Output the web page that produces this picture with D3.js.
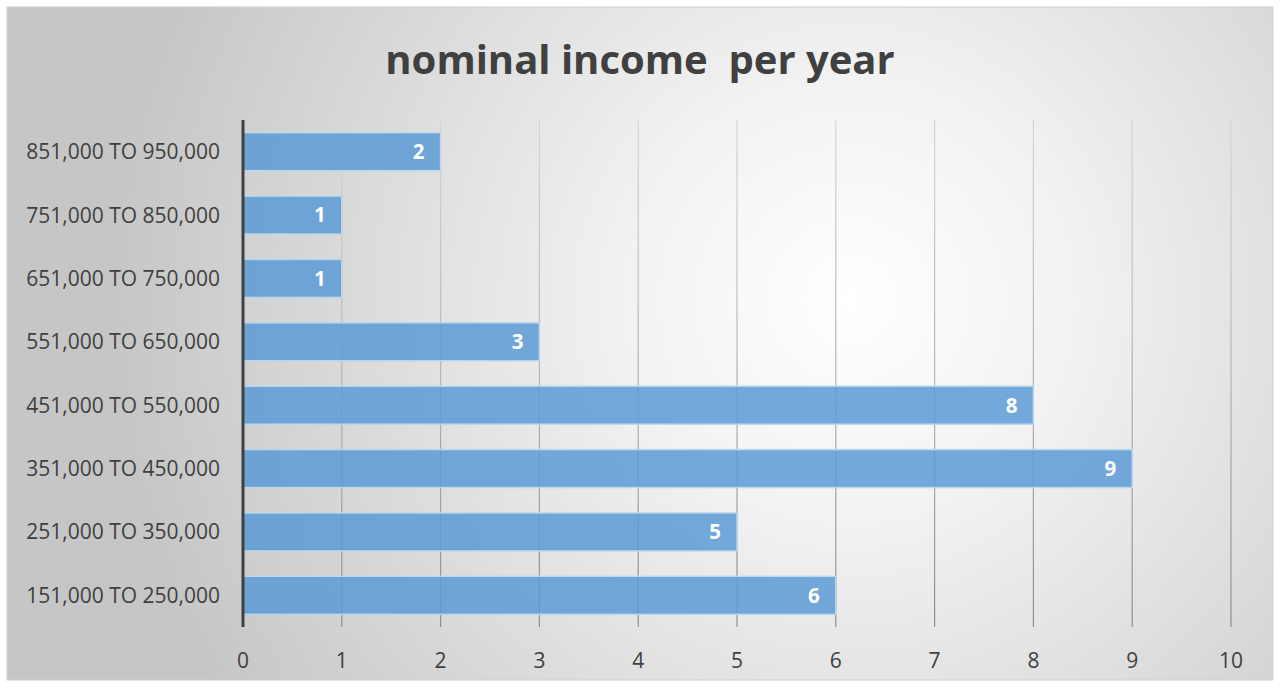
<!DOCTYPE html>
<html>
<head>
<meta charset="utf-8">
<script src="https://cdn.jsdelivr.net/npm/d3@7"></script>
<style>
  html, body { margin: 0; padding: 0; background: #fff; }
  svg { display: block; }
  text { font-family: "Open Sans", "Noto Sans", sans-serif; }
</style>
</head>
<body>
<svg id="chart" width="1281" height="687"></svg>
<script>
// Income brackets (bottom to top as drawn) and number of respondents
const categories = [
  "151,000 TO 250,000",
  "251,000 TO 350,000",
  "351,000 TO 450,000",
  "451,000 TO 550,000",
  "551,000 TO 650,000",
  "651,000 TO 750,000",
  "751,000 TO 850,000",
  "851,000 TO 950,000"
];
const counts = [6, 5, 9, 8, 3, 1, 1, 2];
const xTicks = [0, 1, 2, 3, 4, 5, 6, 7, 8, 9, 10];
const title = "nominal income  per year";

const svg = d3.select("#chart");

const plotLeft = 243, plotRight = 1231, plotTop = 120, plotBottom = 627;

// Soft radial background of the chart area
const defs = svg.append("defs");
const grad = defs.append("radialGradient")
  .attr("id", "bg")
  .attr("gradientUnits", "userSpaceOnUse")
  .attr("cx", 850).attr("cy", 300).attr("r", 740);
grad.append("stop").attr("offset", "0").attr("stop-color", "#ffffff");
grad.append("stop").attr("offset", "0.3").attr("stop-color", "#f2f2f2");
grad.append("stop").attr("offset", "1").attr("stop-color", "#c6c6c6");

// Gridlines fade towards the top
const gridGrad = defs.append("linearGradient")
  .attr("id", "grid")
  .attr("gradientUnits", "userSpaceOnUse")
  .attr("x1", 0).attr("y1", plotTop).attr("x2", 0).attr("y2", plotBottom);
gridGrad.append("stop").attr("offset", "0").attr("stop-color", "#d6d6d6");
gridGrad.append("stop").attr("offset", "0.5").attr("stop-color", "#b4b4b4");
gridGrad.append("stop").attr("offset", "1").attr("stop-color", "#8e8e8e");

svg.append("rect")
  .attr("x", 7).attr("y", 7).attr("width", 1266).attr("height", 673)
  .attr("fill", "url(#bg)")
  .attr("stroke", "#d0d0d0").attr("stroke-width", 1);

const x = d3.scaleLinear().domain([0, 10]).range([plotLeft, plotRight]);
const y = d3.scaleBand()
  .domain(categories.slice().reverse())
  .range([plotTop, plotBottom])
  .paddingInner(0.4).paddingOuter(0.2);

// Vertical gridlines
svg.append("g")
  .selectAll("line")
  .data(xTicks.filter(d => d > 0))
  .join("line")
  .attr("x1", d => x(d)).attr("x2", d => x(d))
  .attr("y1", plotTop).attr("y2", plotBottom)
  .attr("stroke", "url(#grid)").attr("stroke-width", 1.2);

const rows = categories.map((c, i) => ({ c, v: counts[i] }));

// Bars
svg.append("g")
  .selectAll("rect")
  .data(rows)
  .join("rect")
  .attr("x", x(0))
  .attr("y", d => y(d.c))
  .attr("width", d => x(d.v) - x(0))
  .attr("height", y.bandwidth())
  .attr("fill", "#5b9bd5")
  .attr("fill-opacity", 0.85)
  .attr("stroke", "#bdd7ee").attr("stroke-width", 1.5);

// Value labels inside bar ends
svg.append("g")
  .selectAll("text")
  .data(rows)
  .join("text")
  .attr("x", d => x(d.v) - 16)
  .attr("y", d => y(d.c) + y.bandwidth() / 2)
  .attr("dy", "0.36em")
  .attr("text-anchor", "end")
  .attr("fill", "#ffffff")
  .attr("font-size", 20.5)
  .attr("font-weight", "bold")
  .text(d => d.v);

// Category axis line
svg.append("line")
  .attr("x1", x(0)).attr("x2", x(0))
  .attr("y1", plotTop).attr("y2", plotBottom)
  .attr("stroke", "#404040").attr("stroke-width", 3);

// Category labels
svg.append("g")
  .selectAll("text")
  .data(categories)
  .join("text")
  .attr("x", 220)
  .attr("y", d => y(d) + y.bandwidth() / 2)
  .attr("dy", "0.36em")
  .attr("text-anchor", "end")
  .attr("fill", "#404040")
  .attr("font-size", 21)
  .text(d => d);

// Value axis tick labels
svg.append("g")
  .selectAll("text")
  .data(xTicks)
  .join("text")
  .attr("x", d => x(d))
  .attr("y", 660)
  .attr("dy", "0.36em")
  .attr("text-anchor", "middle")
  .attr("fill", "#404040")
  .attr("font-size", 21)
  .text(d => d);

// Title
svg.append("text")
  .attr("x", 640).attr("y", 60)
  .attr("dy", "0.36em")
  .attr("text-anchor", "middle")
  .attr("fill", "#404040")
  .attr("font-size", 40)
  .attr("font-weight", "bold")
  .attr("xml:space", "preserve")
  .style("white-space", "pre")
  .text(title);
</script>
</body>
</html>
